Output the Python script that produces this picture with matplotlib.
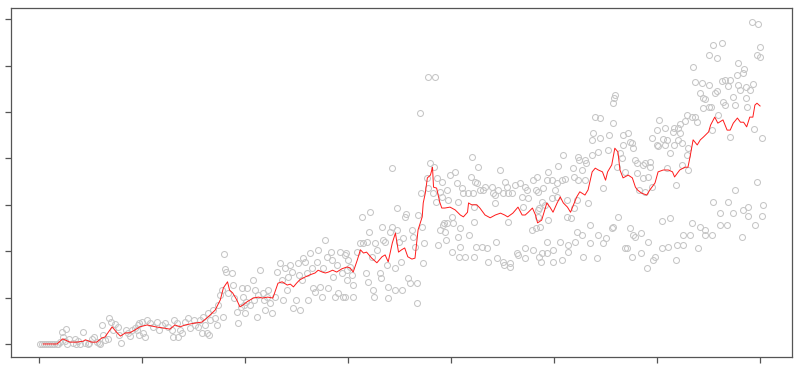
import matplotlib.pyplot as plt

# scatter observations (index, value), read region by region from left to right
obs_x = [1, 3, 5, 7, 9, 11, 13, 15, 17, 18, 20, 22, 23, 25, 26, 27, 29, 33, 35, 36,
         38, 40, 43, 45, 48, 49, 51, 53, 56, 58, 59, 61, 62, 64, 67, 68, 70, 72, 74, 77,
         78, 80, 84, 86, 88, 90, 93, 96,
         95, 97, 97, 100, 101, 103, 105, 108, 111, 115, 116, 119, 122, 125, 129, 130, 131, 134, 135, 137,
         139, 142, 145, 147, 150, 151, 154, 156, 158, 159, 161, 163, 164, 165, 166, 169, 171, 173, 174, 176,
         178, 179, 180, 181, 182, 183, 187, 188, 189, 192, 193, 196, 197, 198,
         199, 200, 201, 202, 205, 208, 209, 210, 212, 213, 215, 217, 218, 219, 221, 222, 224, 226, 229, 231,
         234, 236, 237, 239, 241, 242, 244, 246, 247, 249, 251, 252, 253, 255, 256, 258, 260, 261, 263, 265,
         266, 268, 270, 271, 273, 275, 276, 278, 280, 281, 283, 284, 285, 287, 289, 290, 292, 294, 295, 297,
         299, 300,
         298, 302, 304, 299, 305, 297, 305, 309, 312, 314, 315, 317, 318, 319, 320, 321, 323, 324, 325, 326,
         328, 331, 332, 333, 334, 336, 338, 339, 339, 341, 343, 343, 346, 346, 348, 348, 349, 351, 352, 353,
         355, 356, 358, 360, 362, 363, 365, 367, 367, 368, 370, 371, 372, 373, 374, 377, 378, 378, 380, 382,
         383, 384, 385, 386, 387, 389, 389, 391, 391, 392,
         393, 394, 395, 396, 396, 397, 399, 401, 401, 402, 404, 406, 407, 407, 408, 409, 409, 411, 412, 414,
         416, 417, 419, 420, 421, 422, 422, 422, 423, 424, 425, 426, 428, 430, 431, 433, 435, 436, 440, 441,
         443, 443, 444, 445, 446, 448, 450, 450, 451, 452, 454, 455, 455, 457, 457, 459, 462, 464, 465, 467,
         469, 470, 472, 472, 472, 474, 475, 479, 480, 480, 482, 484, 485,
         559, 558, 557, 540, 545, 557, 538, 537, 545, 553, 567, 572, 574, 567, 552, 543, 537, 564, 566, 577,
         530, 523, 524, 531, 509, 504, 518, 527, 561, 569, 494, 493, 498, 503, 508, 511, 519, 523, 530, 548,
         483, 484, 489, 501, 488, 498, 503, 513, 491, 522, 533, 485, 484, 513, 516, 519, 486, 482, 494, 535,
         557, 562, 556, 522, 527, 543, 550, 493, 506, 514, 520, 535, 548, 569, 571, 488, 499, 514, 493, 487,
         499, 508, 528, 542, 576, 579,
         650, 635, 637, 644, 650, 642, 645, 645, 650, 629, 634, 637, 639, 622, 627, 616, 620, 615, 622, 602,
         600, 608, 595, 606, 610, 600, 601, 608, 616, 620, 624, 630, 629, 613, 579, 581, 586, 588, 593, 593,
         610, 624, 630, 576, 581, 586, 591, 582, 588, 595, 618, 605, 613, 634, 642, 647, 577, 584, 625, 632,
         647, 591, 584, 598, 605, 611, 619, 625, 640, 596, 590, 618, 574,
         692, 698, 654, 663, 700, 697, 700, 658, 679, 684, 678, 683, 663, 666, 671, 669, 679, 686, 693, 658,
         656, 681, 690, 647, 652, 664, 666, 674, 686, 676, 687, 659, 671, 653, 694, 702, 697, 676, 654, 669,
         688, 703, 661, 674, 683, 688, 702, 661, 668, 695, 653, 682]
obs_y = [0, 0, 0, 0, 0, 0, 0, 0, 0, 0, 0.04, 0.26, 0.15, 0.06, 0.32, 0, 0.11, 0.02, 0.11, 0,
         0.06, 0, 0.26, 0.02, 0, 0.02, 0.11, 0.15, 0.04, 0.02, 0, 0.41, 0.19, 0.09, 0.11, 0.56, 0.47, 0.30, 0.43, 0.37,
         0.19, 0.02, 0.30, 0.24, 0.17, 0.30, 0.34, 0.41,
         0.30, 0.45, 0.19, 0.47, 0.24, 0.15, 0.52, 0.45, 0.37, 0.47, 0.30, 0.41, 0.45, 0.37, 0.30, 0.15, 0.52, 0.45, 0.15, 0.30,
         0.24, 0.47, 0.56, 0.34, 0.52, 0.41, 0.37, 0.52, 0.24, 0.58, 0.41, 0.24, 0.67, 0.19, 0.52, 0.73, 0.56, 0.41, 0.84, 1.06,
         1.16, 0.58, 1.94, 1.62, 1.55, 1.10, 1.53, 1.27, 0.99, 0.69, 0.45, 0.80, 1.21, 1.01,
         0.84, 0.67, 0.91, 1.21, 0.84, 1.38, 0.95, 1.16, 0.58, 1.06, 1.59, 1.10, 0.95, 0.73, 1.01, 1.16, 0.88, 0.67, 1.01, 1.55,
         1.75, 1.38, 0.95, 1.64, 1.16, 1.44, 1.70, 1.55, 0.78, 0.95, 1.75, 1.49, 0.73, 1.38, 1.85, 1.77, 1.53, 0.95, 1.96, 1.64,
         1.21, 1.12, 1.77, 2.03, 1.23, 1.01, 1.64, 2.24, 1.88, 1.21, 1.98, 1.81, 1.44, 1.01, 1.70, 1.10, 1.98, 1.53, 1.01, 1.92,
         1.59, 1.81,
         1.96, 1.66, 1.49, 1.38, 1.27, 1.01, 1.01, 1.98, 2.18, 2.74, 2.18, 1.53, 2.20, 1.34, 2.41, 2.84, 1.88, 1.16, 1.01, 2.18,
         2.03, 1.53, 1.42, 2.52, 2.24, 2.20, 1.70, 1.23, 0.99, 2.41, 2.52, 3.79, 1.64, 1.16, 2.93, 2.46, 2.20, 1.77, 1.16, 2.28,
         2.74, 2.80, 1.42, 1.31, 2.46, 2.31, 2.09, 1.31, 0.88, 2.78, 4.98, 3.25, 2.52, 1.75, 2.18, 3.58, 3.36, 5.75, 3.90, 3.25,
         3.81, 5.75, 3.06, 3.58, 2.13, 3.28, 2.46, 3.49, 3.17, 2.56,
         2.61, 2.41, 2.24, 3.32, 2.61, 3.10, 3.64, 2.74, 1.98, 2.61, 3.71, 3.47, 3.06, 2.31, 1.88, 2.50, 2.09, 3.36, 3.25, 1.88,
         3.25, 2.35, 3.60, 4.03, 3.25, 2.95, 2.63, 1.88, 3.49, 2.09, 3.47, 3.81, 3.32, 2.09, 3.32, 3.38, 2.07, 1.77, 3.38, 3.25,
         3.21, 3.04, 2.20, 1.85, 3.32, 3.75, 3.25, 1.77, 1.70, 3.49, 3.38, 3.25, 2.63, 1.75, 1.66, 3.25, 3.43, 1.96, 1.92, 3.47,
         3.17, 2.95, 3.38, 2.07, 1.85, 3.32, 3.15, 2.46, 3.53, 2.03, 3.32, 2.89, 1.88,
         5.37, 5.30, 5.19, 4.89, 4.87, 4.76, 4.55, 4.40, 4.44, 4.50, 4.50, 4.55, 4.35, 4.29, 4.18, 4.14, 4.07, 4.12, 4.01, 4.22,
         3.97, 4.03, 3.97, 3.90, 4.07, 3.84, 3.79, 3.75, 3.81, 3.71, 3.71, 3.53, 3.53, 3.47, 3.53, 3.56, 3.60, 3.53, 3.53, 3.36,
         3.60, 3.28, 3.36, 3.32, 3.06, 3.15, 3.17, 3.10, 3.00, 3.10, 3.04, 2.93, 2.74, 2.74, 2.72, 2.93, 2.52, 2.50, 2.67, 2.56,
         2.52, 2.74, 2.50, 2.41, 2.35, 2.35, 2.28, 2.20, 2.20, 2.13, 2.20, 2.18, 2.18, 2.07, 2.07, 1.96, 2.03, 1.98, 1.96, 1.77,
         1.77, 1.81, 1.88, 1.85, 1.88, 2.31,
         6.23, 5.97, 5.65, 5.63, 5.58, 5.41, 5.30, 5.09, 5.11, 4.94, 4.89, 4.89, 4.78, 4.74, 4.81, 4.66, 4.66, 4.57, 4.55, 4.83,
         4.61, 4.66, 4.44, 4.42, 4.40, 4.29, 4.27, 4.29, 4.29, 4.40, 4.33, 4.22, 4.07, 4.12, 3.97, 3.90, 3.86, 3.90, 3.92, 3.81,
         3.79, 3.86, 3.75, 4.33, 3.69, 3.58, 3.60, 3.32, 3.28, 3.38, 3.43, 2.65, 2.72, 2.61, 2.52, 2.46, 2.35, 2.39, 2.35, 2.35,
         2.35, 2.20, 1.96, 1.88, 2.07, 2.09, 2.13, 2.13, 2.07, 1.81, 1.64, 1.81, 2.50,
         6.94, 6.90, 6.44, 6.49, 6.40, 6.23, 6.19, 6.16, 6.06, 5.93, 5.80, 5.84, 5.67, 5.69, 5.69, 5.56, 5.58, 5.54, 5.60, 5.45,
         5.41, 5.47, 5.47, 5.28, 5.11, 5.22, 5.15, 5.32, 5.30, 5.15, 5.11, 4.94, 4.46, 4.61, 4.63, 4.44, 3.49, 3.32, 3.06, 3.06,
         2.95, 3.00, 2.82, 2.82, 2.89, 2.76, 2.76, 2.56, 2.56, 2.56, 2.35, 2.31]

# smoothed trend (red line)
trend_x = [4, 17.5, 23, 30, 37, 43, 45, 51, 56, 61, 64, 71, 75, 79, 84, 88, 93, 98, 105, 113,
           122, 127, 132, 137, 142, 151, 158, 164, 171, 176, 179, 183, 185, 188, 192, 195, 198, 202, 208, 213,
           217, 222, 227, 232, 236, 241, 244, 247, 250, 253, 258, 263, 268, 271, 275, 278, 281, 285, 289, 294,
           299, 302, 305, 309, 312, 315, 318, 323, 328, 333, 336, 339, 343, 346, 349, 352, 355, 358, 362, 365,
           368, 372, 373, 375, 377, 378, 380, 382, 383, 386, 389, 391, 394, 399, 404, 409, 412, 416, 417, 420,
           425, 428, 433, 438, 443, 448, 452, 455, 460, 465, 469, 472, 475, 479, 482, 484, 488, 493, 496, 499,
           503, 506, 509, 513, 516, 518, 522, 525, 530, 533, 537, 540, 543, 547, 550, 552, 556, 559, 562, 564,
           567, 572, 576, 579, 581, 585, 590, 593, 598, 601, 606, 611, 615, 617, 622, 627, 630, 632, 635, 639,
           642, 645, 650, 652, 656, 659, 664, 668, 671, 674, 678, 681, 684, 687, 690, 693, 695, 697, 700]
trend_y = [0, 0, 0.11, 0.04, 0.04, 0.06, 0.09, 0.04, 0.04, 0.13, 0.15, 0.37, 0.26, 0.17, 0.24, 0.24, 0.30, 0.37, 0.41, 0.37,
           0.34, 0.32, 0.41, 0.37, 0.41, 0.45, 0.47, 0.58, 0.73, 0.95, 1.21, 1.34, 1.16, 1.10, 0.95, 0.80, 0.84, 0.91, 0.99, 1.01,
           0.99, 1.01, 0.99, 1.31, 1.34, 1.27, 1.29, 1.23, 1.31, 1.38, 1.44, 1.49, 1.53, 1.59, 1.55, 1.53, 1.55, 1.59, 1.55, 1.62,
           1.66, 1.64, 1.55, 1.81, 2.03, 1.96, 1.98, 1.85, 1.75, 1.88, 1.92, 1.77, 2.18, 2.39, 1.98, 2.03, 2.07, 1.88, 1.83, 1.85,
           2.46, 2.74, 3.04, 3.25, 3.58, 3.60, 3.64, 3.81, 3.38, 3.36, 3.06, 2.93, 2.93, 2.95, 2.89, 2.78, 2.74, 2.84, 3.04, 3.00,
           3.00, 2.93, 2.78, 2.72, 2.78, 2.82, 2.78, 2.74, 2.82, 2.95, 2.78, 2.78, 2.84, 2.93, 2.78, 2.61, 2.67, 3.04, 2.95, 2.84,
           3.04, 3.17, 3.04, 2.95, 2.84, 2.95, 3.17, 3.28, 3.21, 3.32, 3.71, 3.79, 3.75, 3.71, 3.53, 3.71, 3.86, 4.22, 4.14, 3.75,
           3.58, 3.64, 3.58, 3.38, 3.32, 3.25, 3.21, 3.32, 3.47, 3.71, 3.75, 3.75, 3.71, 3.60, 3.75, 3.81, 3.81, 4.03, 4.40, 4.29,
           4.40, 4.46, 4.57, 4.72, 4.89, 4.76, 4.83, 4.61, 4.61, 4.76, 4.87, 4.78, 4.78, 4.68, 4.89, 4.89, 5.15, 5.19, 5.13]

x_ticks = list(range(0, 701, 100))
y_ticks = list(range(0, 8))

fig = plt.figure(figsize=(8, 3.68), dpi=100)
ax = fig.add_axes([0.014, 0.03, 0.976, 0.948])

ax.plot(obs_x, obs_y, "o", markersize=4.3, markerfacecolor="none",
        markeredgecolor="#c6c6c6", markeredgewidth=0.75, zorder=2)
ax.plot(trend_x, trend_y, color="#ff1a1a", linewidth=0.7, zorder=3)

ax.set_xlim(-27, 731)
ax.set_ylim(-0.28, 7.24)
ax.set_xticks(x_ticks)
ax.set_yticks(y_ticks)
ax.set_xticklabels([])
ax.set_yticklabels([])
ax.tick_params(length=4.5, width=0.9, color="#555555", direction="out")
for spine in ax.spines.values():
    spine.set_color("#555555")
    spine.set_linewidth(0.9)

plt.savefig("out.png", dpi=100)
